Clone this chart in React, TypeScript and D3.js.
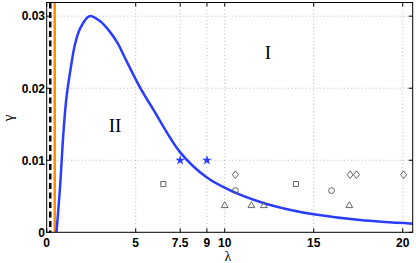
import React from "react";
import * as d3 from "d3";

const curveLambda = [0.55, 0.75, 0.93, 1.1, 1.35, 1.6, 1.9, 2.4, 3.0, 3.5, 4.0, 4.4, 5.2, 6.0, 7.5, 9.0, 10.5, 12.0, 13.7, 15.0, 17.6, 20.56];
const curveGamma = [0, 0.0063, 0.0135, 0.0185, 0.0228, 0.0262, 0.0284, 0.03, 0.0293, 0.028, 0.0262, 0.0242, 0.0203, 0.017, 0.0111, 0.0076, 0.0056, 0.0042, 0.0031, 0.0025, 0.0017, 0.0012];

const starLambda = [7.5, 9];
const starGamma = [0.01, 0.01];
const squareLambda = [6.55, 14.0];
const squareGamma = [0.0067, 0.0067];
const diamondLambda = [10.6, 17.05, 17.4, 20.05];
const diamondGamma = [0.008, 0.008, 0.008, 0.008];
const circleLambda = [10.6, 16.0];
const circleGamma = [0.0058, 0.0058];
const triangleLambda = [10.0, 11.5, 12.2, 17.0];
const triangleGamma = [0.0037, 0.0037, 0.0037, 0.0037];

const dashedLambda = 0.2;
const orangeLambda = 0.45;

const xTicks = [0, 5, 7.5, 9, 10, 15, 20];
const xTickLabels = ["0", "5", "7.5", "9", "10", "15", "20"];
const yTicks = [0, 0.01, 0.02, 0.03];
const yTickLabels = ["0", "0.01", "0.02", "0.03"];

const W = 416, H = 263;
const L = 46.7, R = 412.7, T = 2.5, B = 232.3;

export default function App() {
  const x = d3.scaleLinear().domain([0, 20.56]).range([L, R]);
  const y = d3.scaleLinear().domain([0, 0.0319]).range([B, T]);
  const line = d3.line<number>().x((d, i) => x(curveLambda[i])).y((d, i) => y(curveGamma[i])).curve(d3.curveCatmullRom.alpha(0.5));
  const curvePath = line(curveGamma) || "";
  const star = d3.symbol().type(d3.symbolStar).size(30)() || "";
  const tri = d3.symbol().type(d3.symbolTriangle).size(20)() || "";
  const sq = d3.symbol().type(d3.symbolSquare).size(26)() || "";
  const diamond = "M0,-3.8L3,0L0,3.8L-3,0Z";
  const grey = "#555";
  const font = "'Liberation Sans', Arial, sans-serif";
  return (
    <svg width={W} height={H} style={{ position: "absolute", left: 0, top: 0, background: "#fff" }}>
      <defs>
        <clipPath id="plot"><rect x={L} y={T} width={R - L} height={B - T} /></clipPath>
      </defs>
      {xTicks.filter(t => t > 0).map((t, i) => (
        <line key={"gx" + i} x1={x(t)} x2={x(t)} y1={T} y2={B} stroke="#bbb" strokeWidth={1} strokeDasharray="1,2.5" />
      ))}
      {yTicks.filter(t => t > 0).map((t, i) => (
        <line key={"gy" + i} x1={L} x2={R} y1={y(t)} y2={y(t)} stroke="#bbb" strokeWidth={1} strokeDasharray="1,2.5" />
      ))}
      <g clipPath="url(#plot)">
        <line x1={x(dashedLambda)} x2={x(dashedLambda)} y1={T} y2={B} stroke="#000" strokeWidth={2.5} strokeDasharray="6,3.5" />
        <line x1={x(orangeLambda)} x2={x(orangeLambda)} y1={T} y2={B} stroke="#ff8c00" strokeWidth={2.5} />
        <path d={curvePath} fill="none" stroke="#2a3cff" strokeWidth={2.5} />
      </g>
      {starLambda.map((l, i) => (
        <path key={"s" + i} d={star} transform={`translate(${x(l)},${y(starGamma[i])})`} fill="#2a3cff" />
      ))}
      {squareLambda.map((l, i) => (
        <path key={"q" + i} d={sq} transform={`translate(${x(l)},${y(squareGamma[i])})`} fill="none" stroke={grey} strokeWidth={0.9} />
      ))}
      {diamondLambda.map((l, i) => (
        <path key={"d" + i} d={diamond} transform={`translate(${x(l)},${y(diamondGamma[i])})`} fill="none" stroke={grey} strokeWidth={0.9} />
      ))}
      {circleLambda.map((l, i) => (
        <circle key={"c" + i} cx={x(l)} cy={y(circleGamma[i])} r={2.9} fill="none" stroke={grey} strokeWidth={0.9} />
      ))}
      {triangleLambda.map((l, i) => (
        <path key={"t" + i} d={tri} transform={`translate(${x(l)},${y(triangleGamma[i])})`} fill="none" stroke={grey} strokeWidth={0.9} />
      ))}
      <rect x={L} y={T} width={R - L} height={B - T} fill="none" stroke="#000" strokeWidth={1} />
      {xTicks.map((t, i) => (
        <g key={"xt" + i}>
          <line x1={x(t)} x2={x(t)} y1={B} y2={B - 4} stroke="#000" />
          <line x1={x(t)} x2={x(t)} y1={T} y2={T + 4} stroke="#000" />
          <text x={x(t)} y={247} textAnchor="middle" fontFamily={font} fontWeight="bold" fontSize={12}>{xTickLabels[i]}</text>
        </g>
      ))}
      {yTicks.map((t, i) => (
        <g key={"yt" + i}>
          <line x1={L} x2={L + 4} y1={y(t)} y2={y(t)} stroke="#000" />
          <line x1={R} x2={R - 4} y1={y(t)} y2={y(t)} stroke="#000" />
          <text x={45} y={y(t) + 4.3} textAnchor="end" fontFamily={font} fontWeight="bold" fontSize={12}>{yTickLabels[i]}</text>
        </g>
      ))}
      <text x={228} y={261} textAnchor="middle" fontFamily="'Liberation Serif', serif" fontSize={14}>λ</text>
      <text transform={`translate(13,118) rotate(-90)`} textAnchor="middle" fontFamily="'Liberation Serif', serif" fontSize={15}>γ</text>
      <text x={268} y={59} textAnchor="middle" fontFamily="'Liberation Serif', serif" fontSize={19}>I</text>
      <text x={115} y={132} textAnchor="middle" fontFamily="'Liberation Serif', serif" fontSize={19}>II</text>
    </svg>
  );
}
